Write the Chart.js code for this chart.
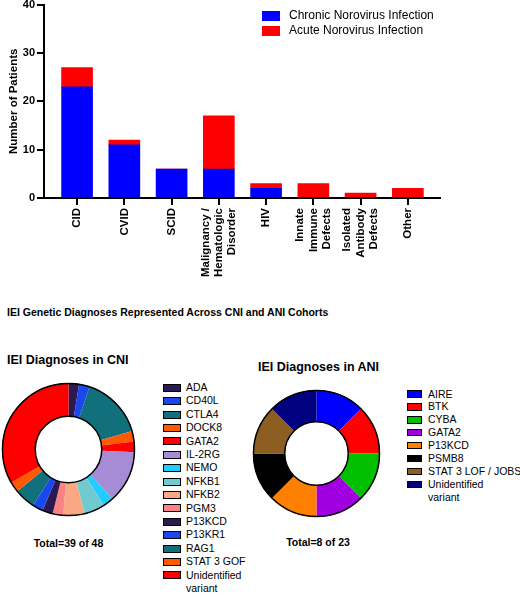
<!DOCTYPE html>
<html>
<head>
<meta charset="utf-8">
<script src="https://cdn.jsdelivr.net/npm/chart.js@4.4.1/dist/chart.umd.min.js"></script>
<style>
  body { margin: 0; background: #fff; font-family: "Liberation Sans", Arial, sans-serif; color: #000; }
  #page { position: relative; width: 520px; height: 594px; overflow: hidden; background: #fff; }
  canvas, .txt, .legend { position: absolute; }
  .txt { white-space: nowrap; font-weight: bold; }
  .legend .row { display: flex; align-items: flex-start; white-space: nowrap; }
  .legend .box { flex: none; box-sizing: border-box; }
</style>
</head>
<body>
<div id="page">
  <canvas id="bars" width="520" height="304" style="left:0;top:-4px"></canvas>
  <div class="legend" id="barLegend" style="left:262px;top:8px;font-size:12px;line-height:15px"></div>

  <div class="txt" style="left:7px;top:305px;font-size:10.5px;line-height:14px">IEI Genetic Diagnoses Represented Across CNI and ANI Cohorts</div>

  <div class="txt" style="left:7px;top:352px;font-size:12.5px;line-height:17px">IEI Diagnoses in CNI</div>
  <canvas id="cni" width="135" height="135" style="left:1px;top:382px"></canvas>
  <div class="legend" id="cniLegend" style="left:163px;top:381px;font-size:10.5px;line-height:13.4px"></div>
  <div class="txt" style="left:18px;width:101px;text-align:center;top:536px;font-size:10.5px;line-height:14px">Total=39 of 48</div>

  <div class="txt" style="left:258px;top:359px;font-size:12.5px;line-height:17px">IEI Diagnoses in ANI</div>
  <canvas id="ani" width="129" height="129" style="left:252px;top:389px"></canvas>
  <div class="legend" id="aniLegend" style="left:407px;top:387.5px;font-size:10.5px;line-height:12.9px"></div>
  <div class="txt" style="left:268px;width:100px;text-align:center;top:535px;font-size:10.5px;line-height:14px">Total=8 of 23</div>
</div>

<script>
// bar chart data
const categories = [
  ["CID"], ["CVID"], ["SCID"],
  ["Malignancy /", "Hematologic", "Disorder"],
  ["HIV"],
  ["Innate", "Immune", "Defects"],
  ["Isolated", "Antibody", "Defects"],
  ["Other"]
];
const chronicValues = [23, 11, 6, 6, 2, 0, 0, 0];
const acuteValues = [4, 1, 0, 11, 1, 3, 1, 2];
const seriesNames = ["Chronic Norovirus Infection", "Acute Norovirus Infection"];
const yTicks = [0, 10, 20, 30, 40];

// doughnut data
const cniLabels = ["ADA", "CD40L", "CTLA4", "DOCK8", "GATA2", "IL-2RG", "NEMO", "NFKB1",
  "NFKB2", "PGM3", "P13KCD", "P13KR1", "RAG1", "STAT 3 GOF", ["Unidentified", "variant"]];
const cniValues = [1, 1, 6, 1, 1, 5, 1, 2, 2, 1, 1, 1, 2, 1, 13];

const aniLabels = ["AIRE", "BTK", "CYBA", "GATA2", "P13KCD", "PSMB8", "STAT 3 LOF / JOBS",
  ["Unidentified", "variant"]];
const aniValues = [1, 1, 1, 1, 1, 1, 1, 1];

const cniColors = ["#2b1a52", "#1b47ee", "#11707b", "#ff5a00", "#ff0000", "#a68bd5", "#20cdfc",
  "#70cbd1", "#f9a883", "#fa8282", "#2b1a52", "#1b47ee", "#11707b", "#ff5a00", "#ff0000"];
const aniColors = ["#0000ff", "#ff0000", "#00c000", "#a000e0", "#ff8000", "#000000", "#8c5e22", "#000080"];
const barColors = ["#0000ff", "#ff0000"];

const FONT = "'Liberation Sans', Arial, sans-serif";
const xMin = -0.7, xMax = 7.68;
const labelLine = 13.3;
const pxPerUnit = 396 / (xMax - xMin);

const ctx = document.getElementById("bars").getContext("2d");

new Chart(ctx, {
  type: "bar",
  data: {
    datasets: [
      {
        label: seriesNames[0],
        data: chronicValues.map((v, i) => ({ x: i, y: v })),
        backgroundColor: barColors[0],
        barThickness: 31,
        borderWidth: 0,
      },
      {
        label: seriesNames[1],
        data: acuteValues.map((v, i) => ({ x: i, y: v })),
        backgroundColor: barColors[1],
        barThickness: 31,
        borderWidth: 0,
      },
    ],
  },
  options: {
    responsive: false,
    animation: false,
    layout: { padding: { left: 0, right: 80, top: 0, bottom: 0 } },
    plugins: { legend: { display: false }, tooltip: { enabled: false } },
    scales: {
      x: {
        type: "linear",
        position: "bottom",
        weight: 0,
        offset: false,
        min: xMin,
        max: xMax,
        stacked: true,
        border: { color: "#000", width: 2 },
        grid: { offset: false, drawOnChartArea: false, drawTicks: true, tickLength: 7, color: "#000", lineWidth: 2 },
        ticks: { display: false },
        afterBuildTicks: (s) => { s.ticks = categories.map((c, i) => ({ value: i })); },
      },
      xl: {
        type: "linear",
        position: "bottom",
        weight: 1,
        offset: false,
        min: xMin,
        max: xMax,
        border: { display: false },
        grid: { offset: false, display: false, drawTicks: false },
        // shift multi-line labels so the group is centred on the tick
        afterBuildTicks: (s) => {
          s.ticks = categories.map((c, i) => ({ value: i - ((c.length - 1) / 2) * labelLine / pxPerUnit }));
        },
        ticks: {
          autoSkip: false,
          minRotation: 90,
          maxRotation: 90,
          padding: 3,
          color: "#000",
          font: { family: FONT, size: 11.5, weight: "bold", lineHeight: labelLine / 11.5 },
          callback: (v, i) => categories[i],
        },
        afterFit: (s) => { s.height = 95; },
      },
      y: {
        min: 0,
        max: 40,
        stacked: true,
        border: { color: "#000", width: 2 },
        grid: { drawOnChartArea: false, tickLength: 7, color: "#000", lineWidth: 2 },
        afterBuildTicks: (s) => { s.ticks = yTicks.map((v) => ({ value: v })); },
        ticks: { padding: 2, color: "#000", font: { family: FONT, size: 11, weight: "bold" } },
        title: {
          display: true,
          text: "Number of Patients",
          color: "#000",
          font: { family: FONT, size: 11.5, weight: "bold" },
          padding: { top: 7, bottom: 0 },
        },
        afterFit: (s) => { s.width = 44; },
      },
    },
  },
});

// html legend for the bars
document.getElementById("barLegend").innerHTML = seriesNames.map((n, i) =>
  `<div class="row"><span class="box" style="width:18px;height:10px;margin-top:2.5px;margin-right:9px;background:${barColors[i]}"></span>${n}</div>`
).join("");

// black outer / inner rings round the doughnuts
const ringOutline = {
  id: "ringOutline",
  afterDatasetsDraw(chart) {
    const arc = chart.getDatasetMeta(0).data[0];
    if (!arc) return;
    const c = chart.ctx;
    c.save();
    c.strokeStyle = "#000";
    c.lineWidth = 1.5;
    [arc.outerRadius - 0.5, arc.innerRadius].forEach((r) => {
      c.beginPath();
      c.arc(arc.x, arc.y, r, 0, Math.PI * 2);
      c.stroke();
    });
    c.restore();
  },
};

const doughnut = (id, labels, values, colors) =>
  new Chart(document.getElementById(id), {
    type: "doughnut",
    data: {
      labels: labels,
      datasets: [{ data: values, backgroundColor: colors, borderWidth: 0 }],
    },
    options: {
      responsive: false,
      animation: false,
      cutout: "50%",
      layout: { padding: 1 },
      plugins: { legend: { display: false }, tooltip: { enabled: false } },
    },
    plugins: [ringOutline],
  });

doughnut("cni", cniLabels, cniValues, cniColors);
doughnut("ani", aniLabels, aniValues, aniColors);

const pieLegend = (id, labels, colors, boxW, boxH, rowH, gap) => {
  document.getElementById(id).innerHTML = labels.map((l, i) => {
    const text = Array.isArray(l) ? l.join("<br>") : l;
    return `<div class="row"><span class="box" style="width:${boxW}px;height:${boxH}px;margin-top:${(rowH - boxH) / 2}px;margin-right:${gap}px;border:1px solid #000;background:${colors[i]}"></span><span>${text}</span></div>`;
  }).join("");
};
pieLegend("cniLegend", cniLabels, cniColors, 18, 8, 13.4, 5);
pieLegend("aniLegend", aniLabels, aniColors, 15, 7.5, 12.9, 6);
</script>
</body>
</html>
